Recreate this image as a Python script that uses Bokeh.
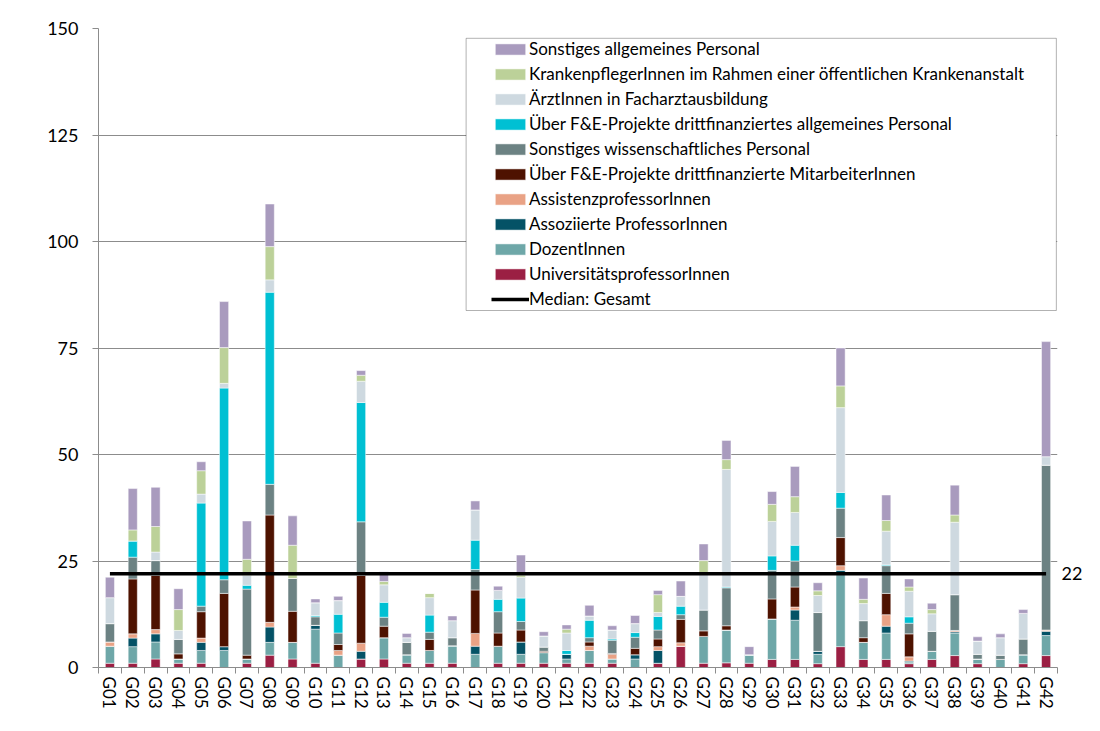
from bokeh.plotting import figure
from bokeh.models import (ColumnDataSource, Range1d, FixedTicker, Legend, LegendItem,
                          BoxAnnotation, LinearAxis)
from bokeh.embed import file_html
from bokeh.resources import INLINE

categories = [f"G{i:02d}" for i in range(1, 43)]

series_names = [
    "UniversitätsprofessorInnen",
    "DozentInnen",
    "Assoziierte ProfessorInnen",
    "AssistenzprofessorInnen",
    "Über F&E-Projekte drittfinanzierte MitarbeiterInnen",
    "Sonstiges wissenschaftliches Personal",
    "Über F&E-Projekte drittfinanziertes allgemeines Personal",
    "ÄrztInnen in Facharztausbildung",
    "KrankenpflegerInnen im Rahmen einer öffentlichen Krankenanstalt",
    "Sonstiges allgemeines Personal",
]
colors = ["#9B1F43", "#6EA7A8", "#045266", "#E9A285", "#4E1200",
          "#6C8283", "#00C0D3", "#CED9E0", "#BCD199", "#A99BBE"]

univ_prof = [1, 1, 2, 1, 1, 0, 1, 2.9, 2, 1, 0, 2, 2, 1, 1, 1, 0, 1, 1, 1, 1,
             1, 1, 0, 1, 5, 1, 1.1, 1, 1.9, 1.9, 0.9, 4.9, 1.9, 1.9, 0.9, 1.9, 2.8, 0.9, 0, 0.9, 2.8]
dozent = [4, 3.9, 4, 1, 3, 4, 1, 3, 3.9, 8, 2.9, 0, 5, 2, 3, 4.1, 3.1, 4, 2.1, 2.5, 1,
          3, 1, 2, 0, 0, 6.3, 7.7, 2, 9.5, 9.2, 2.2, 17, 4, 6.2, 0.4, 1.9, 5.3, 1.1, 1.9, 2.1, 4.7]
assoz = [0, 2, 1.9, 0, 1.9, 0.9, 0, 3.6, 0, 0.9, 0, 1.8, 0, 0, 0, 0, 1.9, 0, 2.9, 0, 1.1,
         0, 0, 1, 3, 0, 0, 0, 0, 0, 2.4, 0.7, 0.9, 0, 1.6, 0.2, 0, 0.3, 0, 0, 0, 1]
assist = [1, 1, 1, 0, 1, 0, 0, 1.1, 0, 0, 1.1, 1.9, 0, 0, 0, 0, 3, 0, 0, 0, 0,
          1, 1.1, 0, 0.9, 0.8, 0, 0, 0, 0, 0.7, 0, 1.1, 0, 2.7, 1, 0, 0.3, 0, 0, 0, 0.3]
fe_ma = [0, 12.9, 12.7, 1.2, 6.2, 12.5, 0.9, 25.2, 7.3, 0, 1.4, 15.9, 2.7, 0, 2.6, 0, 10.2, 3.1, 2.8, 0.3, 0,
         1, 0.2, 1.5, 1.8, 5.5, 1.3, 1, 0, 4.7, 4.7, 0, 6.6, 1.1, 5, 5.4, 0, 0, 0, 0, 0, 0]
sonst_wiss = [4.3, 5.1, 3.5, 3.4, 1.3, 3.2, 15.5, 7.2, 7.7, 2, 2.7, 12.6, 2.1, 2.9, 1.7, 1.9, 4.8, 5, 2, 1, 0,
              1, 3.1, 2.6, 2.1, 1.1, 4.9, 8.9, 0, 6.7, 6.1, 9.1, 6.9, 4, 6.5, 2.5, 4.7, 8.4, 1.1, 1, 3.7, 38.7]
fe_allg = [0, 3.8, 0, 0, 24.2, 45, 0.9, 45.1, 0, 0.3, 4.4, 28, 3.5, 0, 4, 0, 6.9, 2.9, 5.5, 0, 0.9,
           4.1, 0.3, 1.1, 3.2, 2, 0, 0.2, 0, 3.4, 3.7, 0, 3.7, 0, 0.2, 1.5, 0, 0, 0, 0, 0, 0]
aerzte = [6.1, 0, 2, 2.1, 2.1, 1.1, 2.3, 2.9, 0, 3, 3.2, 5, 4.1, 1.1, 4.1, 4, 7.1, 2.1, 4.9, 2.6, 4.1,
          1, 2.1, 2.1, 0.9, 2.3, 8.6, 27.6, 0, 8.1, 7.7, 4, 19.9, 4, 7.9, 6, 4.1, 17, 3.1, 4.1, 6, 2]
kranken = [0, 2.6, 6, 4.9, 5.5, 8.4, 3.8, 7.8, 7.8, 0, 0, 1.4, 0.8, 0, 1, 0, 0, 0, 0.5, 0, 0.9,
           0, 0, 0, 4.2, 0, 3, 2.3, 0, 4, 3.7, 1.1, 5.1, 1, 2.5, 1, 1, 1.7, 0, 0, 0, 0]
sonst_allg = [4.8, 9.7, 9.2, 4.9, 2.1, 10.8, 9, 10, 6.9, 0.9, 1, 1.1, 2.3, 1, 0, 1.1, 2.1, 1, 4.7, 1, 1,
              2.5, 1, 1.9, 1, 3.6, 3.9, 4.5, 1.9, 3, 7.1, 1.9, 8.9, 5, 6, 1.9, 1.5, 7, 1, 0.9, 0.9, 27]

median_gesamt = 22
y_ticks = [0, 25, 50, 75, 100, 125, 150]

FONT = "Lato"
GRID = "#8C8C8C"

keys = ["s%d" % i for i in range(10)]
values = [univ_prof, dozent, assoz, assist, fe_ma, sonst_wiss, fe_allg, aerzte, kranken, sonst_allg]
xpos = list(range(1, len(categories) + 1))
data = {"x": xpos}
for k, v in zip(keys, values):
    data[k] = v
source = ColumnDataSource(data)

p = figure(frame_width=959, frame_height=639, min_border_left=98, min_border_right=35,
           min_border_top=28, min_border_bottom=56,
           x_range=Range1d(0.5, len(categories) + 0.5), y_range=Range1d(0, 150),
           output_backend="svg", toolbar_location=None, tools="")
p.outline_line_color = None
p.background_fill_color = "white"

renderers = p.vbar_stack(keys, x="x", width=0.4, source=source, color=colors,
                         line_color="white", line_width=0.5)

med = p.line(x=xpos, y=[median_gesamt] * len(xpos), line_color="black", line_width=3.5)

# axes
p.xgrid.visible = False
p.ygrid.grid_line_color = GRID
p.ygrid.grid_line_width = 1
p.yaxis.ticker = FixedTicker(ticks=y_ticks)
p.yaxis.axis_line_color = GRID
p.yaxis.major_tick_line_color = GRID
p.yaxis.major_tick_out = 6
p.yaxis.major_tick_in = 0
p.yaxis.minor_tick_line_color = None
p.yaxis.major_label_standoff = 14
p.yaxis.major_label_text_font = FONT
p.yaxis.major_label_text_font_size = "18px"
p.yaxis.major_label_text_color = "black"

p.xaxis.ticker = FixedTicker(ticks=xpos, minor_ticks=[i + 0.5 for i in range(0, len(categories) + 1)])
p.xaxis.major_label_overrides = {x: c for x, c in zip(xpos, categories)}
p.xaxis.axis_line_color = GRID
p.xaxis.major_tick_line_color = None
p.xaxis.major_tick_out = 0
p.xaxis.major_tick_in = 0
p.xaxis.minor_tick_line_color = GRID
p.xaxis.minor_tick_out = 6
p.xaxis.minor_tick_in = 0
p.xaxis.major_label_orientation = "vertical"
p.xaxis.major_label_standoff = 3
p.xaxis.major_label_text_font = FONT
p.xaxis.major_label_text_font_size = "17px"
p.xaxis.major_label_text_color = "black"

# right-hand label for the median value
raxis = LinearAxis(ticker=FixedTicker(ticks=[median_gesamt]))
raxis.axis_line_color = None
raxis.major_tick_line_color = None
raxis.minor_tick_line_color = None
raxis.major_tick_out = 0
raxis.major_tick_in = 0
raxis.major_label_standoff = 4
raxis.major_label_text_font = FONT
raxis.major_label_text_font_size = "18px"
raxis.major_label_text_color = "black"
p.add_layout(raxis, "right")

# legend frame
box = BoxAnnotation(left=16.6, right=42.45, bottom=83.8, top=147.7,
                    fill_color="white", fill_alpha=1.0, line_color="black", line_width=1)
p.add_layout(box)

items = [LegendItem(label=n, renderers=[r]) for n, r in zip(series_names, renderers)][::-1]
items.append(LegendItem(label="Median: Gesamt", renderers=[med]))
legend = Legend(items=items, location="top_right", margin=10, padding=0,
                border_line_color=None, background_fill_alpha=0,
                glyph_width=38, glyph_height=14, label_standoff=0, label_width=518,
                label_height=20, spacing=4,
                label_text_font=FONT, label_text_font_size="17px", label_text_color="black")
p.add_layout(legend, "center")

open("out.html", "w").write(file_html(p, INLINE))
